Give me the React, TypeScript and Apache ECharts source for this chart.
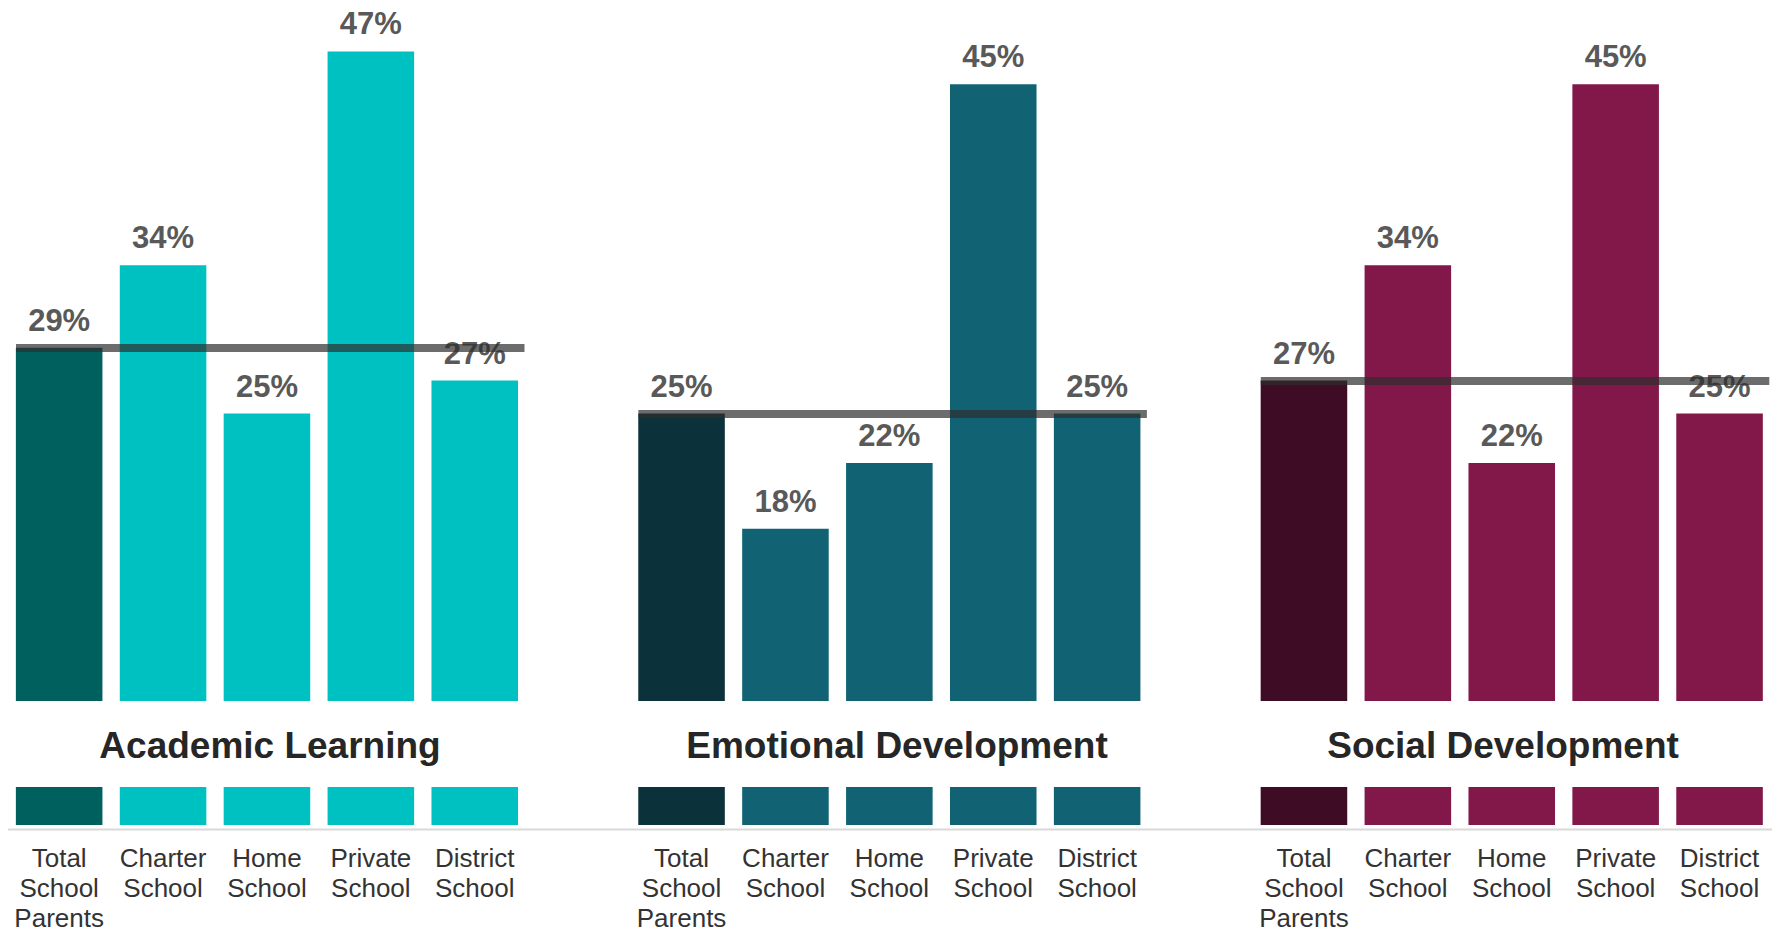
import React, { useEffect, useRef } from 'react';
import * as echarts from 'echarts';

const categories = ['Total\nSchool\nParents', 'Charter\nSchool', 'Home\nSchool', 'Private\nSchool', 'District\nSchool'];
const panelTitles = ['Academic Learning', 'Emotional Development', 'Social Development'];
const academicValues = [29, 34, 25, 47, 27];
const emotionalValues = [25, 18, 22, 45, 25];
const socialValues = [27, 34, 22, 45, 25];
const panelValues = [academicValues, emotionalValues, socialValues];
const totalColors = ['#00605E', '#0B313A', '#3F0C26'];
const groupColors = ['#00C1C1', '#116374', '#82184A'];

const FONT = 'Arial, "Liberation Sans", Helvetica, sans-serif';

export default function App() {
  const ref = useRef<HTMLDivElement>(null);
  useEffect(() => {
    const chart = echarts.init(ref.current!, null, { renderer: 'svg' });
    const gridLefts = [7.2, 629.6, 1252];
    const gridWidth = 519.5;
    const titleCenters = [270, 897, 1503];

    const grid = gridLefts.map((l) => ({ left: l, width: gridWidth, top: 2, bottom: 104, containLabel: false }));
    const xAxis = gridLefts.map((_, i) => ({
      type: 'category',
      gridIndex: i,
      data: categories,
      axisLine: { show: false },
      axisTick: { show: false },
      axisLabel: {
        interval: 0,
        margin: 18,
        fontSize: 26,
        lineHeight: 30,
        color: '#333333',
        fontFamily: FONT,
      },
    }));
    const yAxis = gridLefts.map((_, i) => ({
      type: 'value',
      gridIndex: i,
      min: 0,
      max: 50,
      show: false,
      splitLine: { show: false },
    }));
    const series = panelValues.map((vals, p) => ({
      type: 'bar',
      xAxisIndex: p,
      yAxisIndex: p,
      barCategoryGap: '16.7%',
      data: vals.map((v, i) => ({
        value: v,
        itemStyle: { color: i === 0 ? totalColors[p] : groupColors[p] },
      })),
      label: {
        show: true,
        position: 'top',
        distance: 12,
        formatter: '{c}%',
        fontSize: 31,
        fontWeight: 'bold',
        color: '#595959',
        fontFamily: FONT,
      },
      markLine: {
        silent: true,
        symbol: ['none', 'none'],
        label: { show: false },
        emphasis: { disabled: true },
        lineStyle: { color: '#2d2d2d', width: 8, type: 'solid', opacity: 0.7 },
        data: [
          [
            { x: gridLefts[p] + 8.8, yAxis: vals[0] },
            { x: gridLefts[p] + gridWidth - 2.2, yAxis: vals[0] },
          ],
        ],
      },
    }));

    const graphic: any[] = [
      {
        type: 'rect',
        z: 100,
        silent: true,
        shape: { x: 0, y: 701, width: 1784, height: 86 },
        style: { fill: '#ffffff' },
      },
      {
        type: 'line',
        z: 100,
        silent: true,
        shape: { x1: 8, y1: 829.5, x2: 1772, y2: 829.5 },
        style: { stroke: '#d9d9d9', lineWidth: 2 },
      },
    ];
    panelTitles.forEach((t, i) => {
      graphic.push({
        type: 'text',
        z: 101,
        silent: true,
        x: titleCenters[i],
        y: 745,
        style: {
          text: t,
          fontSize: 37,
          fontWeight: 'bold',
          fill: '#262626',
          fontFamily: FONT,
          align: 'center',
          verticalAlign: 'middle',
        },
      });
    });

    chart.setOption({
      animation: false,
      backgroundColor: '#ffffff',
      grid,
      xAxis,
      yAxis,
      series,
      graphic,
    } as any);
    return () => chart.dispose();
  }, []);
  return (
    <div
      ref={ref}
      style={{ position: 'absolute', left: 0, top: 0, width: 1784, height: 933 }}
    />
  );
}
